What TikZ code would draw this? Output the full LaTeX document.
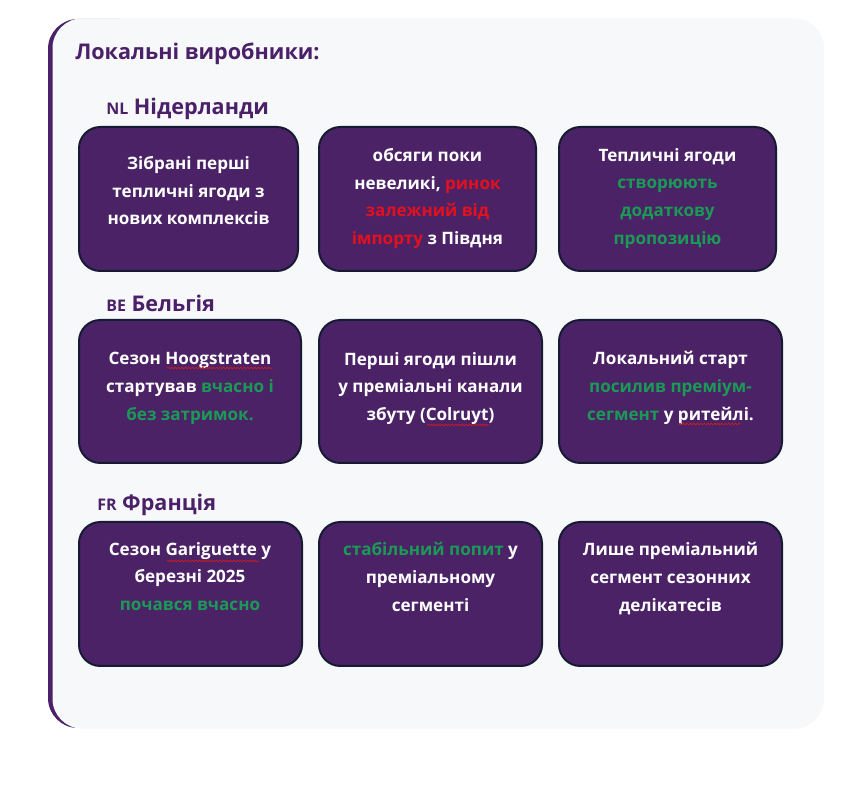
\documentclass[tikz,border=0pt]{standalone}
\usepackage{fontspec}
\setmainfont{Open Sans}
\usetikzlibrary{fit,decorations.pathmorphing}
\definecolor{pagebg}{HTML}{FFFFFF}
\definecolor{panelbg}{HTML}{F7F8FA}
\definecolor{brand}{HTML}{4A2068}
\definecolor{boxfill}{HTML}{4B2266}
\definecolor{boxline}{HTML}{161B33}
\definecolor{okgreen}{HTML}{1A9A55}
\definecolor{alertred}{HTML}{E3101D}
\definecolor{spellred}{HTML}{D41A1A}
\newcommand\gr[1]{\textcolor{okgreen}{#1}}
\newcommand\rd[1]{\textcolor{alertred}{#1}}
\tikzset{
  cardbox/.style={draw=boxline, fill=boxfill, line width=1.5pt, rounded corners=16pt, inner sep=0pt},
  cardtext/.style={text=white, align=center, inner sep=0pt, anchor=north,
    font=\fontsize{12.8}{20.8}\selectfont\bfseries},
  heading/.style={text=brand, inner sep=0pt, anchor=base west,
    font=\fontsize{16.2}{19}\selectfont\bfseries},
  spell/.style={spellred, line width=0.5pt, decorate,
    decoration={snake, amplitude=0.6pt, segment length=2.6pt}}
}
\newcommand\flagcode[1]{{\fontsize{12}{14}\selectfont #1}}
\begin{document}
\begin{tikzpicture}[x=0.75pt,y=-0.75pt]
\useasboundingbox[fill=pagebg] (0,0) rectangle (858,798);
% panel with left accent border
\begin{scope}
  \clip (0,0) rectangle (120,798);
  \fill[brand, rounded corners=22.5pt] (48,19) rectangle (824,728);
\end{scope}
\fill[panelbg, rounded corners=22.5pt] (52.5,18.3) rectangle (824,728.7);

\node[heading] (title) at (75,60) {Локальні виробники:};

% Netherlands
\node[heading] (nl) at (106,115) {\flagcode{NL} Нідерланди};
\node[cardbox, fit={(79,127) (298,271)}] (b11) {};
\node[cardbox, fit={(319,127) (536,271)}] (b12) {};
\node[cardbox, fit={(559,127) (776,271)}] (b13) {};
\node[cardtext] (t11) at (188.5,156) {Зібрані перші\\тепличні ягоди з\\нових комплексів};
\node[cardtext] (t12) at (427.5,148) {обсяги поки\\невеликі, \rd{ринок}\\\rd{залежний від}\\\rd{імпорту} з Півдня};
\node[cardtext] (t13) at (667.5,148) {Тепличні ягоди\\\gr{створюють}\\\gr{додаткову}\\\gr{пропозицію}};

% Belgium
\node[heading] (be) at (106,312) {\flagcode{BE} Бельгія};
\node[cardbox, fit={(79,320) (301,463)}] (b21) {};
\node[cardbox, fit={(319,320) (542,463)}] (b22) {};
\node[cardbox, fit={(559,320) (782,463)}] (b23) {};
\node[cardtext] (t21) at (190,352) {Сезон Hoogstraten\\стартував \gr{вчасно і}\\\gr{без затримок.}};
\node[cardtext] (t22) at (430.5,352) {Перші ягоди пішли\\у преміальні канали\\збуту (Colruyt)};
\node[cardtext] (t23) at (670.5,351) {Локальний старт\\\gr{посилив преміум-}\\\gr{сегмент} у ритейлі.};

% France
\node[heading] (fr) at (97,511) {\flagcode{FR} Франція};
\node[cardbox, fit={(79,522) (302,666)}] (b31) {};
\node[cardbox, fit={(319,522) (542,666)}] (b32) {};
\node[cardbox, fit={(559,522) (782,666)}] (b33) {};
\node[cardtext] (t31) at (190,542) {Сезон Gariguette у\\березні 2025\\\gr{почався вчасно}};
\node[cardtext] (t32) at (430.5,542) {\gr{стабільний попит} у\\преміальному\\сегменті};
\node[cardtext] (t33) at (670.5,542) {Лише преміальний\\сегмент сезонних\\делікатесів};

% spell-check underlines
\draw[spell] (167,368) -- (273,368);
\draw[spell] (427,425) -- (489,425);
\draw[spell] (679,424) -- (741,424);
\draw[spell] (167,561) -- (259,561);
\end{tikzpicture}
\end{document}
